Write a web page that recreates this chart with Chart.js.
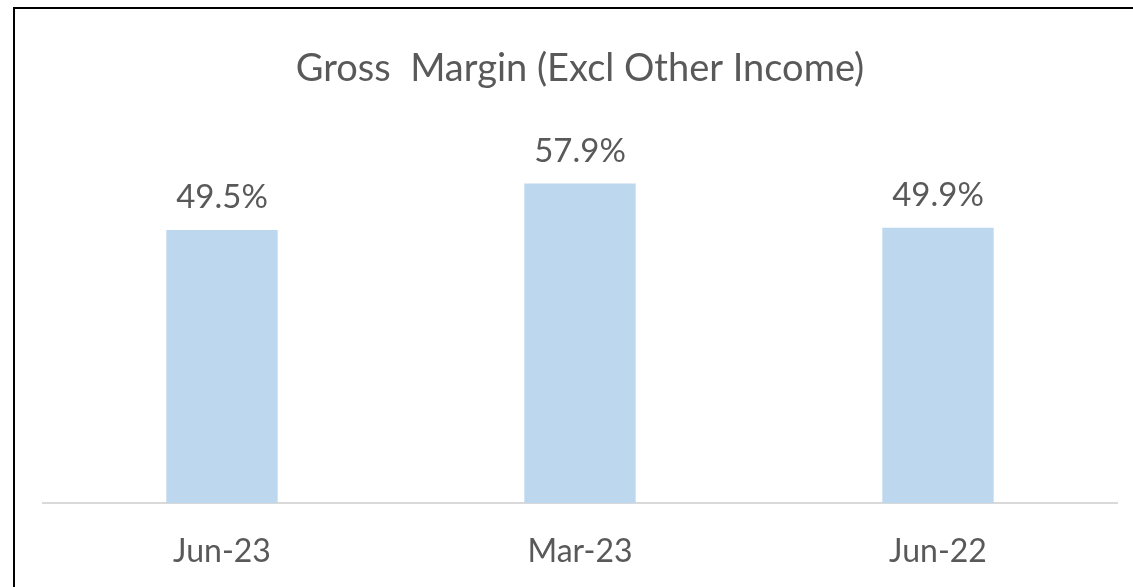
<!DOCTYPE html>
<html>
<head>
<meta charset="utf-8">
<script src="https://cdn.jsdelivr.net/npm/chart.js@4.4.1/dist/chart.umd.min.js"></script>
<style>
  html, body { margin: 0; padding: 0; background: #ffffff; overflow: hidden; }
  #wrap { position: relative; width: 1133px; height: 587px; }
  #frame { position: absolute; left: 13px; top: 7px; width: 1200px; height: 700px;
           border-left: 2px solid #000; border-top: 2px solid #000; pointer-events: none; }
  canvas { position: absolute; left: 0; top: 0; }
</style>
</head>
<body>
<div id="wrap">
  <canvas id="c" width="1133" height="587"></canvas>
  <div id="frame"></div>
</div>
<script>
const titleText = "Gross  Margin (Excl Other Income)";
const categories = ["Jun-23", "Mar-23", "Jun-22"];
const grossMargin = [49.5, 57.9, 49.9];

const TEXT_COLOR = "#595959";
const FONT = "Lato, 'Open Sans', sans-serif";

const labelPlugin = {
  id: "valueLabels",
  afterDatasetsDraw(chart) {
    const ctx = chart.ctx;
    const meta = chart.getDatasetMeta(0);
    ctx.save();
    ctx.font = "33px " + FONT;
    ctx.fillStyle = TEXT_COLOR;
    ctx.textAlign = "center";
    ctx.textBaseline = "alphabetic";
    meta.data.forEach((bar, i) => {
      ctx.fillText(grossMargin[i].toFixed(1) + "%", bar.x, bar.y - 22);
    });
    ctx.restore();
  }
};

const titlePlugin = {
  id: "customTitle",
  afterDraw(chart) {
    const ctx = chart.ctx;
    const a = chart.chartArea;
    ctx.save();
    ctx.font = "38px " + FONT;
    ctx.fillStyle = TEXT_COLOR;
    ctx.textAlign = "center";
    ctx.textBaseline = "alphabetic";
    ctx.fillText(titleText, (a.left + a.right) / 2, 81);
    ctx.restore();
  }
};

new Chart(document.getElementById("c"), {
  type: "bar",
  data: {
    labels: categories,
    datasets: [{
      data: grossMargin,
      backgroundColor: "#BDD7EE",
      borderWidth: 0,
      categoryPercentage: 1,
      barPercentage: 0.311
    }]
  },
  options: {
    responsive: false,
    animation: false,
    devicePixelRatio: 1,
    layout: { padding: { left: 43, right: 16, top: 172, bottom: 0 } },
    plugins: {
      legend: { display: false },
      title: { display: false },
      tooltip: { enabled: false }
    },
    scales: {
      x: {
        grid: { display: false, drawTicks: false },
        border: { display: true, color: "#D9D9D9", width: 2 },
        ticks: { color: TEXT_COLOR, font: { family: FONT, size: 32 }, padding: 29 },
        afterFit(scale) { scale.height = 84; }
      },
      y: {
        display: false,
        min: 0,
        max: 60
      }
    }
  },
  plugins: [labelPlugin, titlePlugin]
});
</script>
</body>
</html>
